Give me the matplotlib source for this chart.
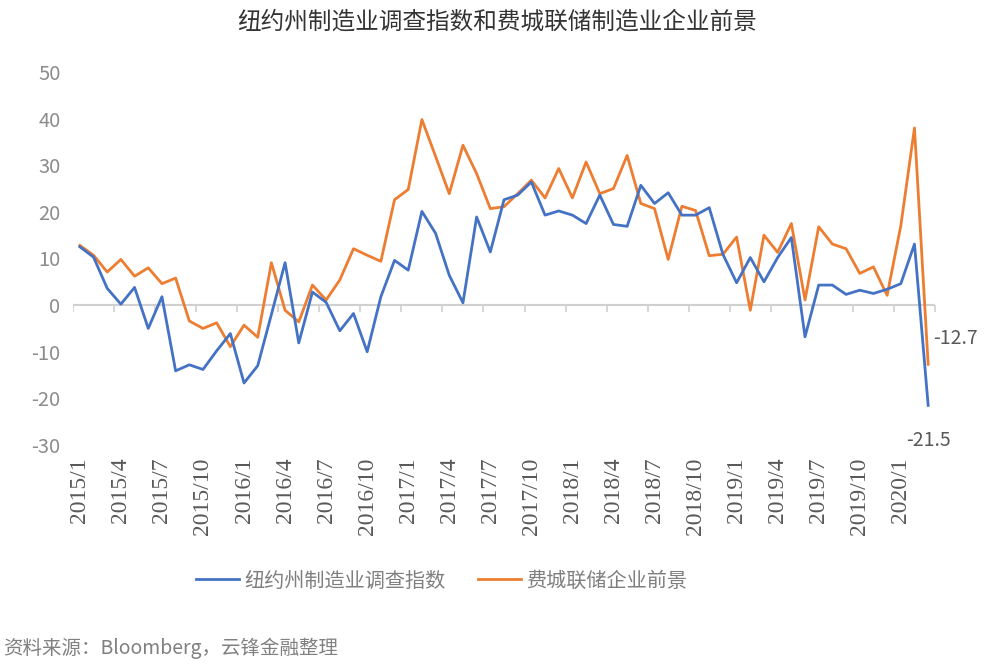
import numpy as np
import matplotlib
matplotlib.use("Agg")
import matplotlib.pyplot as plt

plt.rcParams['font.family'] = ['Noto Sans CJK SC', 'DejaVu Sans']

# monthly categories 2015/1 .. 2020/3
months = [f"{2015 + i // 12}/{i % 12 + 1}" for i in range(63)]

# 纽约州制造业调查指数
ny_index = [12.5, 10.3, 3.6, 0.2, 3.8, -5.0, 1.8, -14.1, -12.8, -13.8, -9.8, -6.1,
            -16.7, -13.0, -2.0, 9.1, -8.1, 2.8, 0.6, -5.5, -1.8, -10.0, 1.8, 9.6,
            7.5, 20.1, 15.4, 6.4, 0.5, 18.9, 11.4, 22.6, 23.6, 26.4, 19.3, 20.2,
            19.3, 17.5, 23.6, 17.3, 16.9, 25.7, 21.8, 24.1, 19.3, 19.3, 20.9, 10.9,
            4.8, 10.2, 5.0, 10.2, 14.5, -6.8, 4.3, 4.3, 2.3, 3.2, 2.5, 3.4,
            4.6, 13.1, -21.5]

# 费城联储企业前景
philly = [12.8, 10.7, 7.1, 9.8, 6.2, 8.0, 4.6, 5.8, -3.4, -5.0, -3.8, -8.9,
          -4.3, -6.9, 9.1, -1.1, -3.6, 4.3, 1.1, 5.4, 12.1, 10.7, 9.4, 22.6,
          24.8, 39.8, 31.9, 23.9, 34.3, 28.2, 20.7, 21.1, 23.9, 26.8, 23.0, 29.3,
          23.0, 30.7, 23.9, 25.0, 32.1, 21.8, 20.7, 9.8, 21.2, 20.3, 10.6, 10.9,
          14.6, -1.1, 15.0, 11.3, 17.5, 1.1, 16.8, 13.1, 12.1, 6.8, 8.2, 2.1,
          17.0, 38.0, -12.7]

yticks = [50, 40, 30, 20, 10, 0, -10, -20, -30]

BLUE = '#4472C4'
ORANGE = '#ED7D31'

fig = plt.figure(figsize=(10.01, 6.72), dpi=100)
ax = fig.add_axes([73 / 1001, 1 - 445 / 672, 862 / 1001, 373 / 672])

x = np.arange(len(months))
l1, = ax.plot(x, ny_index, color=BLUE, lw=2.0, label='纽约州制造业调查指数', zorder=3)
l2, = ax.plot(x, philly, color=ORANGE, lw=2.0, label='费城联储企业前景', zorder=2)

# zero axis line with category boundary ticks
ax.axhline(0, color='#d0d0d0', lw=1.5, zorder=1)
bounds = np.arange(-0.5, len(months), 3)
ax.plot(bounds, np.zeros(len(bounds)), ls='none', marker=3, ms=5,
        color='#d0d0d0', mew=1.2, zorder=1)

ax.set_xlim(-0.5, len(months) - 0.5)
ax.set_ylim(-30, 50)
ax.set_yticks(yticks)
ax.set_yticklabels([str(v) for v in yticks])
ax.tick_params(axis='y', length=0, pad=9, labelsize=14.5, labelcolor='#8c8c8c')

ax.set_xticks(x[::3])
ax.set_xticklabels(months[::3], rotation=90, family='Liberation Serif',
                   fontsize=17, color='#595959')
ax.tick_params(axis='x', length=0, pad=9)

for s in ax.spines.values():
    s.set_visible(False)

# end-point labels
ax.annotate('-12.7', (62, philly[-1]), xytext=(5, 26), textcoords='offset pixels',
            ha='left', va='center', fontsize=14, color='#595959')
ax.annotate('-21.5', (62, ny_index[-1]), xytext=(0, -35), textcoords='offset pixels',
            ha='center', va='center', fontsize=14, color='#595959')

fig.text(0.497, 1 - 22 / 672, '纽约州制造业调查指数和费城联储制造业企业前景',
         ha='center', va='center', fontsize=17, color='#333333')

fig.legend(handles=[l1, l2], loc='center', bbox_to_anchor=(442 / 1001, 1 - 581 / 672),
           ncol=2, frameon=False, fontsize=14.5, labelcolor='#7f7f7f',
           handlelength=2.1, handletextpad=0.3, columnspacing=1.6)

fig.text(3 / 1001, 1 - 648 / 672, '资料来源：Bloomberg，云锋金融整理',
         ha='left', va='center', fontsize=14, color='#808080')

fig.savefig('out.png', dpi=100)
